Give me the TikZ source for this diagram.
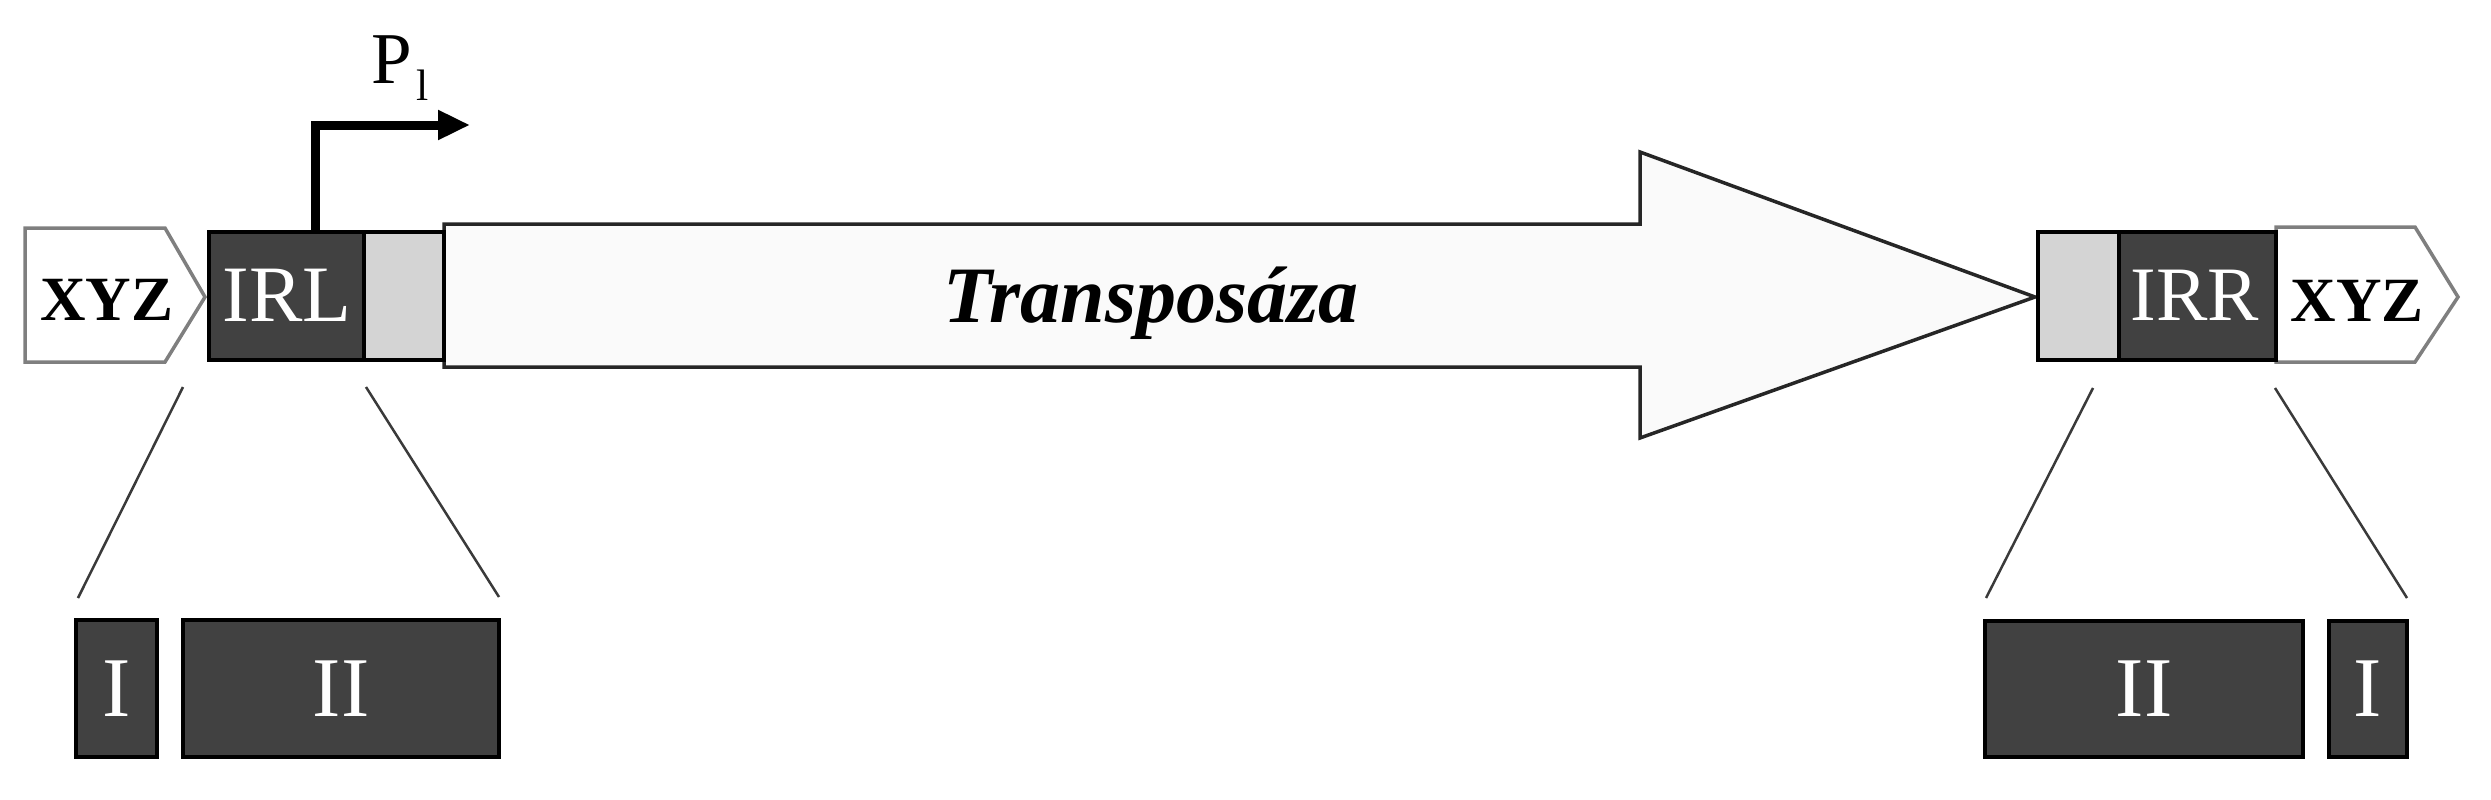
\documentclass[tikz,border=0pt]{standalone}
\usepackage{fontspec}
\setmainfont{Liberation Serif}
\usetikzlibrary{arrows.meta}
\definecolor{darkfill}{HTML}{414141}
\definecolor{lightfill}{HTML}{D4D4D4}
\definecolor{arrowfill}{HTML}{FAFAFA}
\definecolor{xyzline}{HTML}{7F7F7F}
\definecolor{zoomcol}{HTML}{3A3A3A}
\tikzset{
  darkbox/.style={draw=black, line width=4pt, fill=darkfill, inner sep=0pt, outer sep=0pt, anchor=north west, text=white},
  graybox/.style={draw=black, line width=4pt, fill=lightfill, inner sep=0pt, outer sep=0pt, anchor=north west},
  xyzshape/.style={draw=xyzline, line width=3.5pt, fill=white, line join=miter},
  bigarrow/.style={draw=black!85, line width=3.5pt, fill=arrowfill, line join=miter},
  zoomline/.style={draw=zoomcol, line width=2.5pt},
  txt/.style={inner sep=0pt, outer sep=0pt, anchor=base},
  promoter/.style={line width=9pt, line join=miter, -{Triangle[length=32pt,width=28pt]}}
}
\begin{document}
\begin{tikzpicture}[x=1pt, y={(0pt,-1pt)}]
\useasboundingbox (0,0) rectangle (2491,800);
% big transposase arrow
\draw[bigarrow] (444,224) -- (1640,224) -- (1640,152) -- (2035,297) -- (1640,438) -- (1640,367) -- (444,367) -- cycle;
\node[txt, font=\fontsize{80}{90}\selectfont\bfseries\itshape] (tnp) at (1151,322) {Transposáza};
% left XYZ
\draw[xyzshape] (25,228) -- (165,228) -- (205,297) -- (165,362) -- (25,362) -- cycle;
\node[txt, font=\fontsize{63}{70}\selectfont\bfseries] (xyzl) at (107,320) {XYZ};
% right XYZ
\draw[xyzshape] (2276,227) -- (2415,227) -- (2458,297) -- (2415,362) -- (2276,362) -- cycle;
\node[txt, font=\fontsize{63}{70}\selectfont\bfseries] (xyzr) at (2357,321) {XYZ};
% IRL and IRR
\node[darkbox, minimum width=155pt, minimum height=128pt] (irl) at (209,232) {};
\node[graybox, minimum width=80pt, minimum height=128pt] (gl) at (364,232) {};
\node[graybox, minimum width=81pt, minimum height=128pt] (gr) at (2038,232) {};
\node[darkbox, minimum width=157pt, minimum height=128pt] (irr) at (2119,232) {};
\node[txt, text=white, font=\fontsize{80}{90}\selectfont] (irltxt) at (287,321) {IRL};
\node[txt, text=white, font=\fontsize{77}{90}\selectfont] (irrtxt) at (2195,320) {IRR};
% promoter
\coordinate (pstart) at (315,232);
\coordinate (pend) at (470,125);
\draw[promoter] (pstart) |- (pend);
\node[txt, anchor=base west, font=\fontsize{73}{80}\selectfont] (ptxt) at (371,83) {P};
\node[txt, anchor=base west, font=\fontsize{44}{50}\selectfont] (psub) at (416,100) {l};
% lower boxes left
\node[darkbox, line width=3.5pt, minimum width=81pt, minimum height=137pt, font=\fontsize{85}{90}\selectfont] (lI) at (76,620) {I};
\node[darkbox, line width=3.5pt, minimum width=316pt, minimum height=137pt, font=\fontsize{85}{90}\selectfont] (lII) at (183,620) {II};
% lower boxes right
\node[darkbox, line width=3.5pt, minimum width=318pt, minimum height=136pt, font=\fontsize{85}{90}\selectfont] (rII) at (1985,621) {II};
\node[darkbox, line width=3.5pt, minimum width=78pt, minimum height=136pt, font=\fontsize{85}{90}\selectfont] (rI) at (2329,621) {I};
% zoom lines
\coordinate (la1) at (183,387); \coordinate (la2) at (78,598);
\coordinate (lb1) at (366,387); \coordinate (lb2) at (499,597);
\coordinate (ra1) at (2093,388); \coordinate (ra2) at (1986,598);
\coordinate (rb1) at (2275,388); \coordinate (rb2) at (2407,598);
\draw[zoomline] (la1) -- (la2);
\draw[zoomline] (lb1) -- (lb2);
\draw[zoomline] (ra1) -- (ra2);
\draw[zoomline] (rb1) -- (rb2);
\end{tikzpicture}
\end{document}
